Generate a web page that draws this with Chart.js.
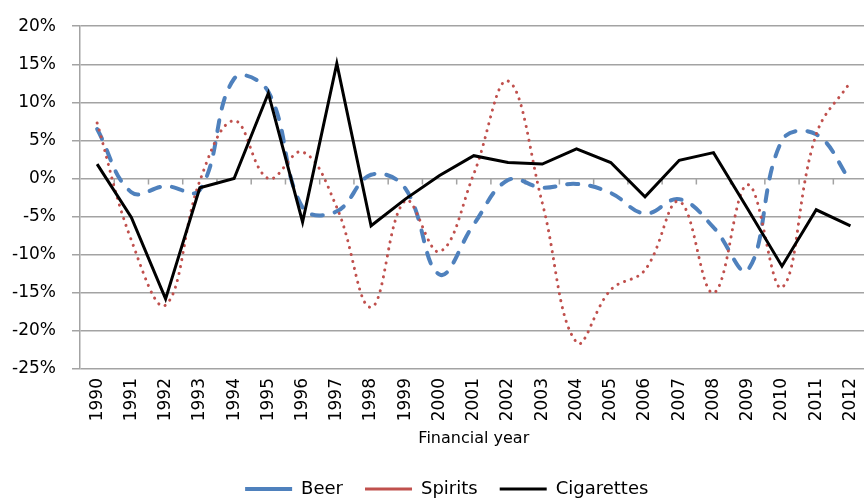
<!DOCTYPE html>
<html lang="en">
<head>
<meta charset="UTF-8">
<title>Beer, spirits and cigarettes - annual change</title>
<script src="https://cdn.jsdelivr.net/npm/chart.js@4.4.1/dist/chart.umd.min.js"></script>
<style>
  html, body { margin: 0; padding: 0; background: #fff; overflow: hidden; }
  .chart-container { position: relative; width: 880px; height: 498px; }
</style>
</head>
<body>

<!--chart canvas-->
<div class="chart-container">
  <canvas id="chart"></canvas>
</div>

<script>
// data (% change on previous financial year)
const years = ['1990', '1991', '1992', '1993', '1994', '1995', '1996', '1997', '1998', '1999', '2000',
  '2001', '2002', '2003', '2004', '2005', '2006', '2007', '2008', '2009', '2010', '2011', '2012'];

const beer = [6.5, -1.8, -1.0, -1.5, 13.1, 11.4, -3.8, -4.3, 0.5, -1.3, -12.6,
  -6.0, -0.2, -1.2, -0.7, -1.9, -4.6, -2.7, -6.4, -12.0, 5.0, 5.8, -0.3];

const spirits = [7.3, -8.1, -16.6, -0.3, 7.6, 0.0, 3.5, -3.8, -16.9, -2.9, -9.6,
  0.6, 12.8, -3.2, -21.5, -14.6, -12.0, -3.0, -15.0, -0.8, -14.3, 5.8, 12.7];

const cigarettes = [1.9, -5.1, -15.8, -1.2, 0.0, 11.2, -5.7, 15.1, -6.2, -2.7, 0.4,
  3.0, 2.1, 1.9, 3.9, 2.1, -2.4, 2.4, 3.4, -4.0, -11.5, -4.1, -6.2];

const yTickValues = [-25, -20, -15, -10, -5, 0, 5, 10, 15, 20];

const gridColor = '#a3a3a3';
const fontFamily = '"DejaVu Sans", sans-serif';

// little tick marks hanging under the 0% line, between the years
const zeroTicks = {
  id: 'zeroTicks',
  afterLayout(chart) {
    // legend sits a bit right of centre in the original
    chart.legend.left += 10;
    chart.legend.right += 10;
  },
  beforeDatasetsDraw(chart) {
    const { ctx, scales: { x, y } } = chart;
    const y0 = y.getPixelForValue(0);
    ctx.save();
    ctx.strokeStyle = gridColor;
    ctx.lineWidth = 1.5;
    ctx.beginPath();
    for (let i = 1; i < years.length; i++) {
      const bx = (x.getPixelForValue(i - 1) + x.getPixelForValue(i)) / 2;
      ctx.moveTo(bx, y0);
      ctx.lineTo(bx, y0 + 6);
    }
    ctx.stroke();
    ctx.restore();
  }
};

const ctx = document.getElementById('chart').getContext('2d');

const myChart = new Chart(ctx, {
  type: 'line',
  data: {
    labels: years,
    datasets: [
      {
        label: 'Beer',
        data: beer,
        borderColor: '#4f81bd',
        backgroundColor: '#4f81bd',
        borderWidth: 4,
        borderDash: [11, 12],
        borderCapStyle: 'round',
        tension: 0.4,
        pointRadius: 0,
        order: 3
      },
      {
        label: 'Spirits',
        data: spirits,
        borderColor: '#c0504d',
        backgroundColor: '#c0504d',
        borderWidth: 3,
        borderDash: [0.1, 7],
        borderCapStyle: 'round',
        tension: 0.4,
        pointRadius: 0,
        order: 2
      },
      {
        label: 'Cigarettes',
        data: cigarettes,
        borderColor: '#000000',
        backgroundColor: '#000000',
        borderWidth: 3,
        tension: 0,
        pointRadius: 0,
        order: 1
      }
    ]
  },
  options: {
    responsive: true,
    maintainAspectRatio: false,
    animation: false,
    layout: {
      padding: { top: 19, right: 6.5, left: 0, bottom: -10 }
    },
    plugins: {
      tooltip: { enabled: false },
      legend: {
        position: 'bottom',
        labels: {
          usePointStyle: true,
          pointStyle: 'line',
          pointStyleWidth: 47,
          padding: 22,
          color: '#000',
          font: { family: fontFamily, size: 18 },
          sort: (a, b) => a.datasetIndex - b.datasetIndex
        }
      }
    },
    scales: {
      x: {
        offset: true,
        grid: { display: false, drawTicks: false },
        border: { display: false },
        ticks: {
          minRotation: 90,
          maxRotation: 90,
          padding: 9,
          color: '#000',
          font: { family: fontFamily, size: 17 }
        },
        title: {
          display: true,
          text: 'Financial year',
          color: '#000',
          padding: { top: 0, bottom: 10 },
          font: { family: fontFamily, size: 16 }
        },
        afterFit: (scale) => { scale.height = 89; }
      },
      y: {
        min: -25,
        max: 20,
        afterBuildTicks: (scale) => { scale.ticks = yTickValues.map(v => ({ value: v })); },
        grid: { color: gridColor, lineWidth: 1.5, tickLength: 8 },
        border: { display: true, color: gridColor, width: 1.5 },
        ticks: {
          padding: 16,
          color: '#000',
          font: { family: fontFamily, size: 17 },
          callback: (value) => value + '%'
        },
        afterFit: (scale) => { scale.width = 80; }
      }
    }
  },
  plugins: [zeroTicks]
});
</script>

</body>
</html>
